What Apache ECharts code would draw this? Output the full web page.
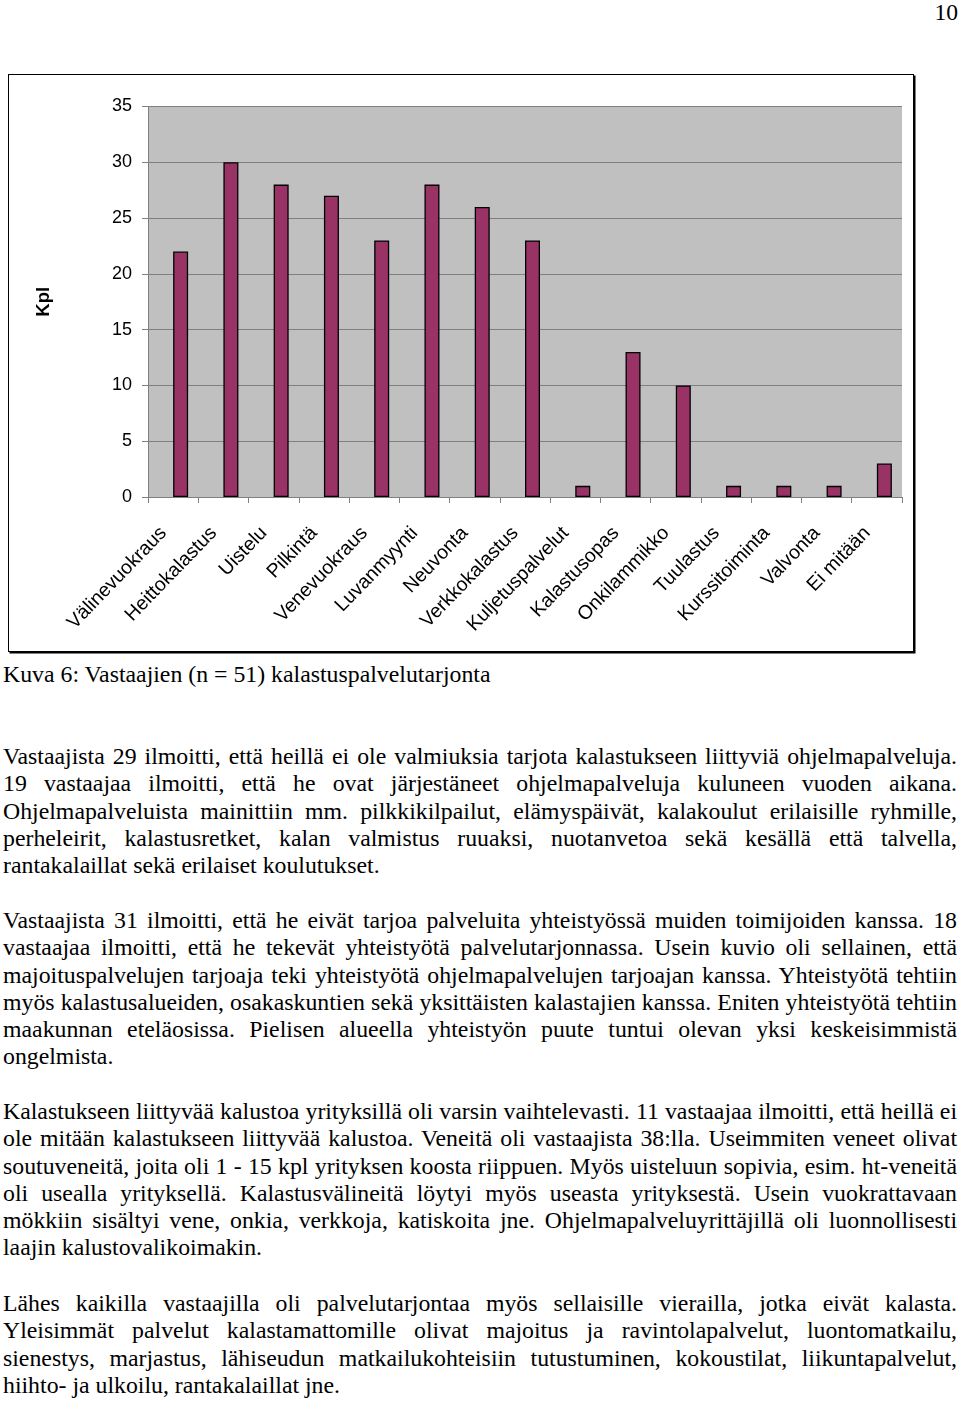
<!DOCTYPE html>
<html><head><meta charset="utf-8">
<script src="https://cdn.jsdelivr.net/npm/echarts@6/dist/echarts.min.js"></script>
<style>
html,body{margin:0;padding:0;background:#fff;}
body{width:960px;height:1402px;position:relative;overflow:hidden;}
#pg{position:absolute;right:2px;top:-1px;font:23.6px/27.3px 'Liberation Serif','Times New Roman',serif;color:#000;}
#frame{position:absolute;left:8px;top:74px;width:904px;height:576px;border:1.4px solid #000;box-shadow:1.5px 1.5px 0 #000;}
#chart{position:absolute;left:0;top:0;width:960px;height:660px;}
.txt{position:absolute;left:3px;width:954px;font:23.8px/27.3px 'Liberation Serif','Times New Roman',serif;color:#000;}
.ln{white-space:nowrap;display:block;}
</style>
</head><body>
<div id="pg">10</div>
<div id="frame"></div>
<div id="chart"></div>
<script>
const categories = ['Välinevuokraus','Heittokalastus','Uistelu','Pilkintä','Venevuokraus','Luvanmyynti','Neuvonta','Verkkokalastus','Kuljetuspalvelut','Kalastusopas','Onkilammikko','Tuulastus','Kurssitoiminta','Valvonta','Ei mitään'];
const values = [22, 30, 28, 27, 23, 28, 26, 23, 1, 13, 10, 1, 1, 1, 3];
const yMin = 0, yMax = 35, yStep = 5;
const yName = 'Kpl';

const caption = ['Kuva 6: Vastaajien (n = 51) kalastuspalvelutarjonta'];
const para1 = [
 'Vastaajista 29 ilmoitti, että heillä ei ole valmiuksia tarjota kalastukseen liittyviä ohjelmapalveluja.',
 '19 vastaajaa ilmoitti, että he ovat järjestäneet ohjelmapalveluja kuluneen vuoden aikana.',
 'Ohjelmapalveluista mainittiin mm. pilkkikilpailut, elämyspäivät, kalakoulut erilaisille ryhmille,',
 'perheleirit, kalastusretket, kalan valmistus ruuaksi, nuotanvetoa sekä kesällä että talvella,',
 'rantakalaillat sekä erilaiset koulutukset.'
];
const para2 = [
 'Vastaajista 31 ilmoitti, että he eivät tarjoa palveluita yhteistyössä muiden toimijoiden kanssa. 18',
 'vastaajaa ilmoitti, että he tekevät yhteistyötä palvelutarjonnassa. Usein kuvio oli sellainen, että',
 'majoituspalvelujen tarjoaja teki yhteistyötä ohjelmapalvelujen tarjoajan kanssa. Yhteistyötä tehtiin',
 'myös kalastusalueiden, osakaskuntien sekä yksittäisten kalastajien kanssa. Eniten yhteistyötä tehtiin',
 'maakunnan eteläosissa. Pielisen alueella yhteistyön puute tuntui olevan yksi keskeisimmistä',
 'ongelmista.'
];
const para3 = [
 'Kalastukseen liittyvää kalustoa yrityksillä oli varsin vaihtelevasti. 11 vastaajaa ilmoitti, että heillä ei',
 'ole mitään kalastukseen liittyvää kalustoa. Veneitä oli vastaajista 38:lla. Useimmiten veneet olivat',
 'soutuveneitä, joita oli 1 - 15 kpl yrityksen koosta riippuen. Myös uisteluun sopivia, esim. ht-veneitä',
 'oli usealla yrityksellä. Kalastusvälineitä löytyi myös useasta yrityksestä. Usein vuokrattavaan',
 'mökkiin sisältyi vene, onkia, verkkoja, katiskoita jne. Ohjelmapalveluyrittäjillä oli luonnollisesti',
 'laajin kalustovalikoimakin.'
];
const para4 = [
 'Lähes kaikilla vastaajilla oli palvelutarjontaa myös sellaisille vierailla, jotka eivät kalasta.',
 'Yleisimmät palvelut kalastamattomille olivat majoitus ja ravintolapalvelut, luontomatkailu,',
 'sienestys, marjastus, lähiseudun matkailukohteisiin tutustuminen, kokoustilat, liikuntapalvelut,',
 'hiihto- ja ulkoilu, rantakalaillat jne.'
];

const blocks = [[caption, 661], [para1, 743], [para2, 907], [para3, 1098], [para4, 1290]];
blocks.forEach(([lines, top]) => {
  const div = document.createElement('div');
  div.className = 'txt';
  div.style.top = top + 'px';
  document.body.appendChild(div);
  lines.forEach((t, i) => {
    const s = document.createElement('span');
    s.className = 'ln';
    s.textContent = t;
    div.appendChild(s);
    if (i < lines.length - 1) {
      s.style.display = 'inline-block';
      const w = s.getBoundingClientRect().width;
      const n = (t.match(/ /g) || []).length;
      if (n) s.style.wordSpacing = ((954 - w) / n) + 'px';
      s.style.display = 'block';
    }
  });
});

const FF = "'Liberation Sans', Arial, sans-serif";
const chart = echarts.init(document.getElementById('chart'), null, {renderer: 'canvas'});
chart.setOption({
  animation: false,
  grid: {left: 148, top: 106.5, right: 58, bottom: 163, show: true, backgroundColor: '#c0c0c0', borderWidth: 0, outerBoundsMode: 'none', containLabel: false},
  xAxis: {
    type: 'category', data: categories, boundaryGap: true,
    axisLine: {show: true, lineStyle: {color: '#808080', width: 1}},
    axisTick: {show: true, length: 6, alignWithLabel: false, interval: 0, lineStyle: {color: '#808080'}},
    axisLabel: {interval: 0, rotate: 46, margin: 23, fontSize: 19.5, fontFamily: FF, color: '#000', padding: [0, 14, 0, 0]},
    splitLine: {show: false}
  },
  yAxis: {
    type: 'value', min: yMin, max: yMax, interval: yStep,
    name: yName, nameLocation: 'middle', nameRotate: 90, nameGap: 95,
    nameTextStyle: {fontSize: 18.5, fontWeight: 'bold', fontFamily: FF, color: '#000'},
    axisLine: {show: true, lineStyle: {color: '#808080', width: 1}},
    axisTick: {show: true, length: 6, lineStyle: {color: '#808080'}},
    axisLabel: {margin: 16, fontSize: 18, fontFamily: FF, color: '#000'},
    splitLine: {show: true, lineStyle: {color: '#808080', width: 1}}
  },
  series: [
    {type: 'bar', data: categories.map(() => '-'), barWidth: 15, barGap: '0%', silent: true},
    {type: 'bar', data: values, barWidth: 15, barGap: '0%',
     itemStyle: {color: '#993366', borderColor: '#000', borderWidth: 1.3}}
  ]
});
</script>
</body></html>
